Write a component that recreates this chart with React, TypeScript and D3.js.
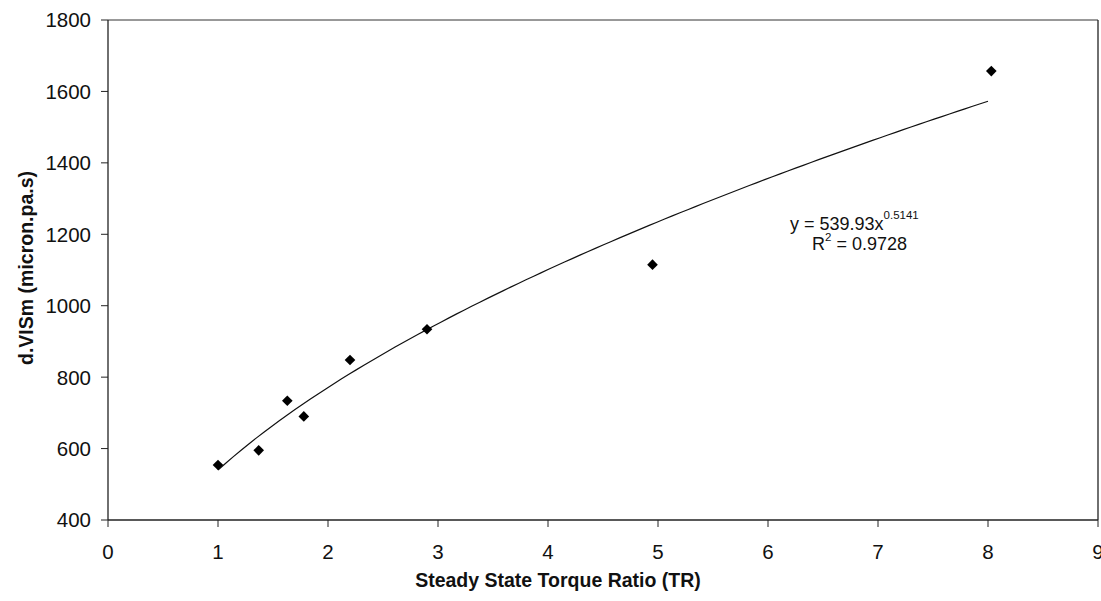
import React from "react";
import * as d3 from "d3";

const torqueRatio = [1.0, 1.37, 1.63, 1.78, 2.2, 2.9, 4.95, 8.03];
const viscosity = [554, 595, 734, 690, 848, 934, 1115, 1657];
const xTicks = [0, 1, 2, 3, 4, 5, 6, 7, 8, 9];
const yTicks = [400, 600, 800, 1000, 1200, 1400, 1600, 1800];
const fitCoef = 539.93;
const fitExp = 0.5141;
const rSquared = "0.9728";

const W = 1101;
const H = 601;
const M = { left: 108, right: 1098, top: 20, bottom: 520 };
const FONT = "'Liberation Sans', Arial, sans-serif";

export default function App() {
  const x = d3.scaleLinear().domain([0, 9]).range([M.left, M.right]);
  const y = d3.scaleLinear().domain([400, 1800]).range([M.bottom, M.top]);

  const xMin = d3.min(torqueRatio) as number;
  const xMax = 8.0;
  const fitX = d3.range(0, 101).map((i) => xMin + ((xMax - xMin) * i) / 100);
  const line = d3
    .line<number>()
    .x((d) => x(d))
    .y((d) => y(fitCoef * Math.pow(d, fitExp)));

  const diamond = d3.symbol().type(d3.symbolDiamond2).size(72)();

  return (
    <svg
      width={W}
      height={H}
      style={{ position: "absolute", left: 0, top: 0, background: "#fff" }}
      fontFamily={FONT}
    >
      <rect x={0} y={0} width={W} height={H} fill="#fff" />
      {/* plot frame */}
      <line x1={M.left} x2={M.right} y1={M.top} y2={M.top} stroke="#333" strokeWidth={1} />
      <line x1={M.right} x2={M.right} y1={M.top} y2={M.bottom} stroke="#222" strokeWidth={1.3} />
      <line x1={M.left} x2={M.left} y1={M.top} y2={M.bottom} stroke="#222" strokeWidth={1.3} />
      <line x1={M.left} x2={M.right} y1={M.bottom} y2={M.bottom} stroke="#222" strokeWidth={1.3} />

      {/* y ticks */}
      {yTicks.map((t) => (
        <g key={"y" + t}>
          <line x1={M.left - 7} x2={M.left} y1={y(t)} y2={y(t)} stroke="#222" strokeWidth={1} />
          <text
            x={91}
            y={y(t)}
            dy="0.36em"
            textAnchor="end"
            fontSize={20.5}
            fill="#111"
          >
            {t}
          </text>
        </g>
      ))}

      {/* x ticks */}
      {xTicks.map((t) => (
        <g key={"x" + t}>
          <line x1={x(t)} x2={x(t)} y1={M.bottom} y2={M.bottom + 7} stroke="#222" strokeWidth={1} />
          <text x={x(t)} y={559} textAnchor="middle" fontSize={20.5} fill="#111">
            {t}
          </text>
        </g>
      ))}

      {/* trendline */}
      <path d={line(fitX) || ""} fill="none" stroke="#111" strokeWidth={1.2} />

      {/* points */}
      {torqueRatio.map((tr, i) => (
        <path
          key={"p" + i}
          d={diamond || ""}
          transform={`translate(${x(tr)},${y(viscosity[i])})`}
          fill="#000"
        />
      ))}

      {/* equation */}
      <text x={790} y={230} fontSize={18} fill="#111">
        y = {fitCoef}x
        <tspan dy={-11} fontSize={11.5}>
          {fitExp}
        </tspan>
      </text>
      <text x={812} y={250} fontSize={18} fill="#111">
        R
        <tspan dy={-9} fontSize={11.5}>
          2
        </tspan>
        <tspan dy={9}> = {rSquared}</tspan>
      </text>

      {/* axis titles */}
      <text x={558} y={587} textAnchor="middle" fontSize={19.5} fontWeight="bold" fill="#111">
        Steady State Torque Ratio (TR)
      </text>
      <text
        transform={`translate(33,268) rotate(-90)`}
        textAnchor="middle"
        fontSize={19.5}
        fontWeight="bold"
        fill="#111"
      >
        d.VISm (micron.pa.s)
      </text>
    </svg>
  );
}
